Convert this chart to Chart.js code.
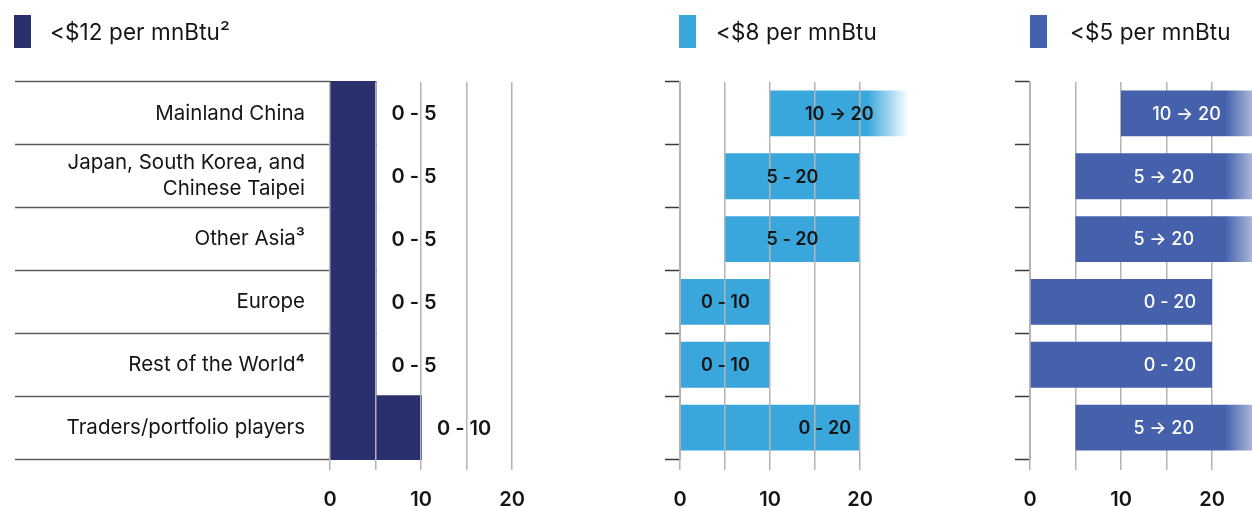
<!DOCTYPE html>
<html lang="en">
<head>
<meta charset="utf-8">
<title>Buyer segments by LNG price level</title>
<script src="https://cdn.jsdelivr.net/npm/chart.js@4.4.1/dist/chart.umd.min.js"></script>
<style>
  html, body { margin: 0; padding: 0; background: #fff; }
  body { position: relative; width: 1252px; height: 506px; overflow: hidden;
         font-family: Inter, "Noto Sans", sans-serif; color: #151515; }
  canvas { position: absolute; top: 0; }
  .key { position: absolute; top: 15px; height: 33px; }
  .key-text { position: absolute; top: 15px; line-height: 33px; font-size: 22.5px;
              white-space: nowrap; letter-spacing: 0.1px; }
</style>
</head>
<body>
<canvas id="under12" width="560" height="506" style="left:0"></canvas>
<canvas id="under8" width="300" height="506" style="left:640px"></canvas>
<canvas id="under5" width="262" height="506" style="left:990px"></canvas>
<script>
// Buyer segments and the volume ranges they would take at each price level
const categories = [
  'Mainland China',
  ['Japan, South Korea, and', 'Chinese Taipei'],
  'Other Asia³',
  'Europe',
  'Rest of the World⁴',
  'Traders/portfolio players'
];
const tierNames = ['<$12 per mnBtu²', '<$8 per mnBtu', '<$5 per mnBtu'];
const xTickLabels = [0, 10, 20];

const under12Low  = [0, 0, 0, 0, 0, 0];
const under12High = [5, 5, 5, 5, 5, 10];

const under8Low  = [10, 5, 5, 0, 0, 0];
const under8High = [20, 20, 20, 10, 10, 20];
const under8OpenEnded = [true, false, false, false, false, false];

const under5Low  = [10, 5, 5, 0, 0, 5];
const under5High = [20, 20, 20, 20, 20, 20];
const under5OpenEnded = [true, true, true, false, false, true];

const FONT = 'Inter, "Noto Sans", sans-serif';
const GRID = '#b4b4b4';
const INK = '#151515';

const panels = [
  { id: 'under12', name: tierNames[0], low: under12Low, high: under12High, open: null,
    color: '#2A2F6E', key: { left: 14, width: 17, text: 50 },
    axisWidth: 330, padRight: 48, categoryAxis: true, gridOnTop: true, barPct: 1, inflate: 1,
    label: { placement: 'outside', gap: 16, color: INK, font: `600 20px ${FONT}` } },
  { id: 'under8', name: tierNames[1], low: under8Low, high: under8High, open: under8OpenEnded,
    color: '#39A6DC', key: { left: 679, width: 17, text: 716 },
    axisWidth: 40, padRight: 80, categoryAxis: false, gridOnTop: true, barPct: 0.73, inflate: 'auto',
    fade: { length: 5.4, solid: 0.15 },
    label: { placement: 'inside', endPad: 9, color: INK, font: `600 18px ${FONT}` } },
  { id: 'under5', name: tierNames[2], low: under5Low, high: under5High, open: under5OpenEnded,
    color: '#4561AC', key: { left: 1030, width: 17, text: 1070 },
    axisWidth: 40, padRight: 40, categoryAxis: false, gridOnTop: false, barPct: 0.73, inflate: 'auto',
    fade: { length: 7, solid: 0.2 },
    label: { placement: 'inside', endPad: 16, color: '#ffffff', font: `500 18px ${FONT}` } }
];

// Open-ended ranges fade out to the right of their upper bound
function fadeFill(color, solidStop) {
  return (ctx) => {
    const chart = ctx.chart;
    if (!chart.chartArea || !ctx.raw) return color;
    const xs = chart.scales.x;
    const x0 = xs.getPixelForValue(ctx.raw[0]);
    const x1 = xs.getPixelForValue(ctx.raw[1]);
    const g = chart.ctx.createLinearGradient(x0, 0, x1, 0);
    g.addColorStop(0, color);
    g.addColorStop(solidStop, color);
    g.addColorStop(1, '#ffffff');
    return g;
  };
}

// Range text ("0 - 5", "10 → 20") written next to or inside each bar
function rangeLabels(p) {
  return {
    id: 'rangeLabels',
    afterDraw(chart) {
      const { ctx } = chart;
      const xs = chart.scales.x;
      const main = chart.getDatasetMeta(0);
      const ext = chart.data.datasets.length > 1 ? chart.getDatasetMeta(1) : null;
      const opt = p.label;
      ctx.save();
      ctx.font = opt.font;
      ctx.fillStyle = opt.color;
      ctx.textBaseline = 'middle';
      main.data.forEach((bar, i) => {
        const lo = p.low[i], hi = p.high[i];
        const open = p.open && p.open[i];
        const text = lo + (open ? ' → ' : ' - ') + hi;
        const left = Math.min(bar.base, bar.x);
        let right = Math.max(bar.base, bar.x);
        if (open && ext) right = Math.min(ext.data[i].x, chart.width);
        let x;
        if (opt.placement === 'outside') {
          ctx.textAlign = 'left';
          x = right + opt.gap;
        } else if (lo === xs.min && hi === xs.max) {
          ctx.textAlign = 'right';
          x = right - opt.endPad;
        } else {
          ctx.textAlign = 'center';
          x = (left + right) / 2;
        }
        ctx.fillText(text, x, bar.y + 1);
      });
      ctx.restore();
    }
  };
}

function buildChart(p) {
  const datasets = [{
    data: p.low.map((lo, i) => [lo, p.high[i]]),
    backgroundColor: p.color,
    borderWidth: 0,
    inflateAmount: p.inflate,
    barPercentage: p.barPct,
    categoryPercentage: 1,
    grouped: false,
    clip: false
  }];
  if (p.open) {
    datasets.push({
      data: p.open.map((o, i) => (o ? [p.high[i], p.high[i] + p.fade.length] : null)),
      backgroundColor: fadeFill(p.color, p.fade.solid),
      borderWidth: 0,
      barPercentage: p.barPct,
      categoryPercentage: 1,
      grouped: false,
      clip: false
    });
  }

  const yScale = p.categoryAxis ? {
    offset: true,
    border: { display: false },
    grid: { offset: true, drawOnChartArea: false, drawTicks: true, tickLength: 315,
            tickColor: '#5c5c5c', tickWidth: 1.5 },
    ticks: { padding: -290, autoSkip: false, color: INK,
             font: { family: FONT, size: 20.5, lineHeight: 1.27 } },
    afterFit: (s) => { s.width = p.axisWidth; s.paddingTop = 0; s.paddingBottom = 0; }
  } : {
    offset: true,
    border: { display: true, color: GRID, width: 2 },
    grid: { offset: true, drawOnChartArea: false, drawTicks: true, tickLength: 15,
            tickColor: '#3a3a3a', tickWidth: 1.5 },
    ticks: { display: false },
    afterFit: (s) => { s.width = p.axisWidth; s.paddingTop = 0; s.paddingBottom = 0; }
  };

  return new Chart(document.getElementById(p.id), {
    type: 'bar',
    data: { labels: categories, datasets },
    options: {
      indexAxis: 'y',
      responsive: false,
      animation: false,
      events: [],
      layout: { padding: { top: 82, right: p.padRight, bottom: 0, left: 0 } },
      plugins: { legend: { display: false }, tooltip: { enabled: false } },
      scales: {
        x: {
          type: 'linear',
          min: 0,
          max: 20,
          border: { display: false },
          grid: { color: GRID, lineWidth: 1.5, drawTicks: true, tickLength: 11,
                  z: p.gridOnTop ? 1 : -1 },
          ticks: { stepSize: 5, autoSkip: false, maxRotation: 0, padding: 18, color: INK,
                   font: { family: FONT, size: 20, weight: '600' },
                   callback: (v) => (xTickLabels.includes(v) ? String(v) : '') },
          afterFit: (s) => { s.height = 47; s.paddingLeft = 0; s.paddingRight = 0; }
        },
        y: yScale
      }
    },
    plugins: [rangeLabels(p)]
  });
}

// Price-level keys above each panel
function buildKey(p) {
  const swatch = document.createElement('div');
  swatch.className = 'key';
  swatch.style.left = p.key.left + 'px';
  swatch.style.width = p.key.width + 'px';
  swatch.style.background = p.color;
  const text = document.createElement('div');
  text.className = 'key-text';
  text.style.left = p.key.text + 'px';
  text.textContent = p.name;
  document.body.appendChild(swatch);
  document.body.appendChild(text);
}

Promise.all([
  document.fonts.load(`400 20px Inter`),
  document.fonts.load(`600 20px Inter`),
  document.fonts.load(`500 18px Inter`)
]).catch(() => {}).then(() => {
  panels.forEach((p) => { buildKey(p); buildChart(p); });
});
</script>
</body>
</html>
